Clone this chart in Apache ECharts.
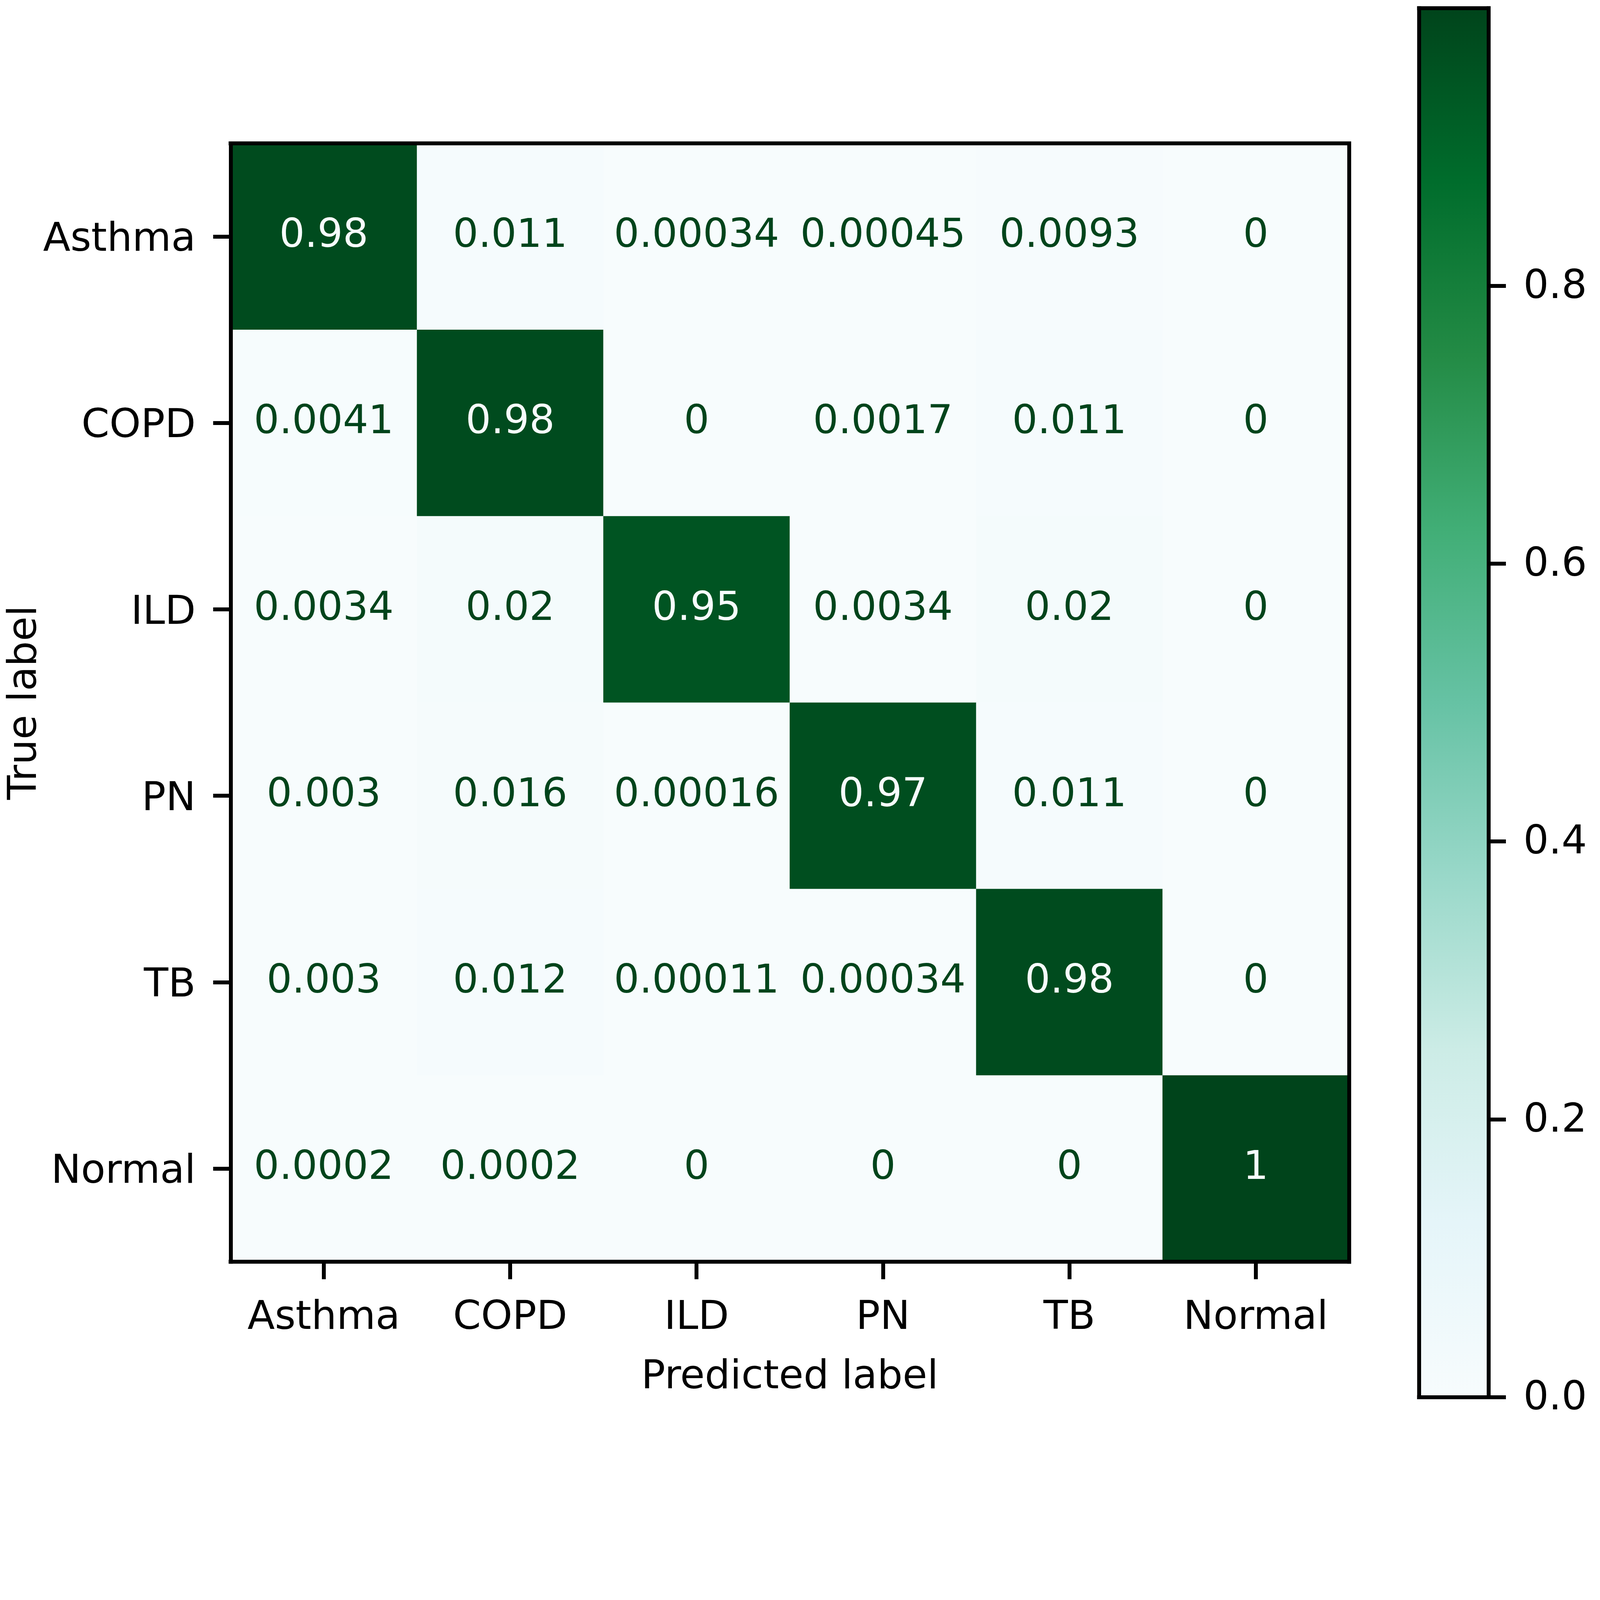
<!DOCTYPE html>
<html><head><meta charset="utf-8">
<script src="https://cdn.jsdelivr.net/npm/echarts@6/dist/echarts.min.js"></script>
<style>html,body{margin:0;padding:0;background:#fff;overflow:hidden}#c{width:100vw;height:100vh}</style>
</head><body><div id="c"></div>
<script>
// ---- data ----
const classes = ['Asthma', 'COPD', 'ILD', 'PN', 'TB', 'Normal'];
const rowAsthma = [0.98, 0.011, 0.00034, 0.00045, 0.0093, 0];
const rowCOPD   = [0.0041, 0.98, 0, 0.0017, 0.011, 0];
const rowILD    = [0.0034, 0.02, 0.95, 0.0034, 0.02, 0];
const rowPN     = [0.003, 0.016, 0.00016, 0.97, 0.011, 0];
const rowTB     = [0.003, 0.012, 0.00011, 0.00034, 0.98, 0];
const rowNormal = [0.0002, 0.0002, 0, 0, 0, 1];
const colorbarTicks = [0, 0.2, 0.4, 0.6, 0.8];
const colorMin = 0;
const colorMax = 1;
const xTitle = 'Predicted label';
const yTitle = 'True label';

// BuGn colormap
const BuGn = ['#f7fcfd','#e5f5f9','#ccece6','#99d8c9','#66c2a4','#41ae76','#238b45','#006d2c','#00441b'];

const rows = [rowAsthma, rowCOPD, rowILD, rowPN, rowTB, rowNormal];
const thresh = (colorMax + colorMin) / 2;
const cells = [];
rows.forEach((r, i) => r.forEach((v, j) => {
  cells.push({ value: [j, i, v], label: { color: v < thresh ? BuGn[8] : BuGn[0] } });
}));
function fmt2g(v) { return String(Number(v.toPrecision(2))); }

// scale layout to the actual viewport (designed for 5322 x 4734)
const el = document.getElementById('c');
const s = Math.min(el.clientWidth / 5322, el.clientHeight / 4734) || 1;
const S = v => v * s;

const FONT = 'DejaVu Sans';
const FS = S(133);
const LW = S(13);
const lineOnly = (extra) => Object.assign({
  axisLine: { show: true, onZero: false, lineStyle: { color: '#000', width: LW, cap: 'square' } },
  axisTick: { show: false }, axisLabel: { show: false },
  splitLine: { show: false }, splitArea: { show: false }, z: 10
}, extra);

const chart = echarts.init(el, null, { renderer: 'canvas' });
chart.setOption({
  animation: false,
  backgroundColor: '#fff',
  textStyle: { fontFamily: FONT },
  grid: [
    { left: S(767), top: S(477), width: S(3720), height: S(3720), outerBoundsMode: 'none' },
    { left: S(4720), top: S(27), width: S(231), height: S(4620), outerBoundsMode: 'none' }
  ],
  visualMap: {
    show: false, type: 'continuous', min: colorMin, max: colorMax,
    seriesIndex: 0, dimension: 2, inRange: { color: BuGn }
  },
  xAxis: [
    {
      gridIndex: 0, type: 'category', data: classes, position: 'bottom', z: 10,
      axisLine: { show: true, onZero: false, lineStyle: { color: '#000', width: LW, cap: 'square' } },
      axisTick: { show: true, alignWithLabel: true, interval: 0, length: S(58), lineStyle: { color: '#000', width: LW } },
      axisLabel: { interval: 0, fontSize: FS, color: '#000', margin: S(122), fontFamily: FONT },
      splitLine: { show: false }, splitArea: { show: false },
      name: xTitle, nameLocation: 'middle', nameGap: S(320), nameMoveOverlap: false,
      nameTextStyle: { fontSize: FS, color: '#000', fontFamily: FONT }
    },
    lineOnly({ gridIndex: 0, type: 'category', data: classes, position: 'top' }),
    lineOnly({ gridIndex: 1, type: 'category', data: [''], position: 'bottom' }),
    lineOnly({ gridIndex: 1, type: 'category', data: [''], position: 'top' })
  ],
  yAxis: [
    {
      gridIndex: 0, type: 'category', data: classes, inverse: true, position: 'left', z: 10,
      axisLine: { show: true, onZero: false, lineStyle: { color: '#000', width: LW, cap: 'square' } },
      axisTick: { show: true, alignWithLabel: true, interval: 0, length: S(58), lineStyle: { color: '#000', width: LW } },
      axisLabel: { interval: 0, fontSize: FS, color: '#000', margin: S(116), fontFamily: FONT,
        verticalAlign: 'top', lineHeight: S(26) },
      splitLine: { show: false }, splitArea: { show: false },
      name: yTitle, nameLocation: 'middle', nameGap: S(616), nameRotate: 90, nameMoveOverlap: false,
      nameTextStyle: { fontSize: FS, color: '#000', fontFamily: FONT }
    },
    lineOnly({ gridIndex: 0, type: 'category', data: classes, inverse: true, position: 'right' }),
    {
      gridIndex: 1, type: 'value', min: colorMin, max: colorMax, position: 'right', z: 10,
      axisLine: { show: true, onZero: false, lineStyle: { color: '#000', width: LW, cap: 'square' } },
      axisTick: { show: true, length: S(58), customValues: colorbarTicks, lineStyle: { color: '#000', width: LW } },
      axisLabel: { show: true, customValues: colorbarTicks, fontSize: FS, color: '#000', margin: S(116),
        fontFamily: FONT, verticalAlign: 'top', lineHeight: S(12), formatter: v => Number(v).toFixed(1) },
      splitLine: { show: false }, splitArea: { show: false }
    },
    lineOnly({ gridIndex: 1, type: 'value', min: colorMin, max: colorMax, position: 'left' })
  ],
  series: [
    {
      type: 'heatmap', xAxisIndex: 0, yAxisIndex: 0, data: cells, z: 2,
      label: { show: true, fontSize: FS, fontFamily: FONT, formatter: p => fmt2g(p.value[2]) },
      emphasis: { disabled: true }, itemStyle: { borderWidth: 0 }
    },
    {
      type: 'bar', xAxisIndex: 2, yAxisIndex: 2, data: [colorMax], barWidth: '100%', z: 2, silent: true,
      itemStyle: { color: new echarts.graphic.LinearGradient(0, 1, 0, 0,
        BuGn.map((c, i) => ({ offset: i / (BuGn.length - 1), color: c }))) }
    }
  ]
});
</script></body></html>
